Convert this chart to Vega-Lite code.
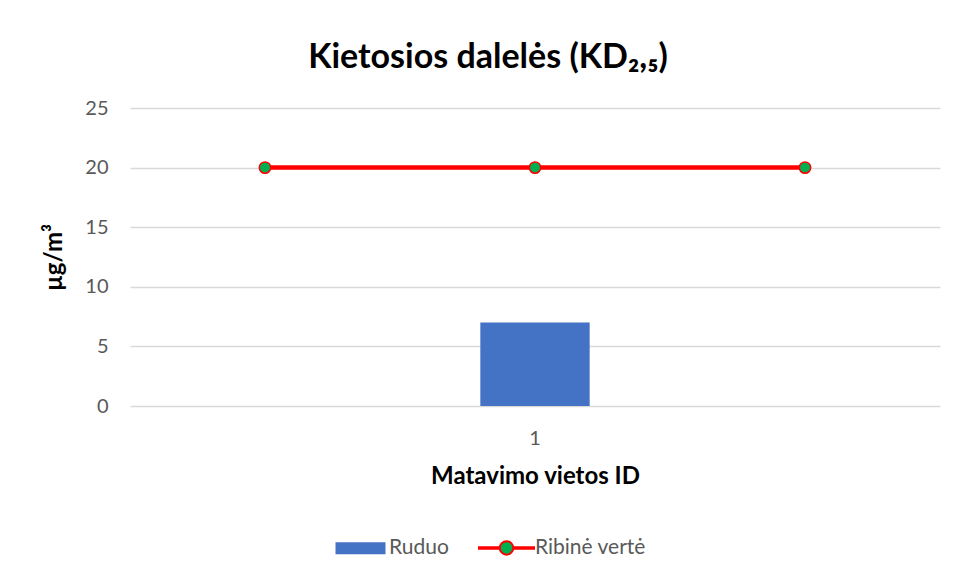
{
  "$schema": "https://vega.github.io/schema/vega-lite/v6.json",
  "autosize": "none",
  "width": 810,
  "height": 298,
  "padding": {"left": 130, "top": 108, "right": 20, "bottom": 174},
  "background": "white",
  "config": {
    "font": "Lato",
    "view": {"stroke": null},
    "legend": {
      "title": null,
      "orient": "none",
      "direction": "horizontal",
      "legendX": 203,
      "legendY": 429,
      "symbolSize": 2500,
      "symbolOffset": 17,
      "labelFontSize": 21,
      "labelColor": "#595959",
      "labelOffset": 18,
      "columnPadding": 25,
      "labelLimit": 300
    }
  },
  "title": {
    "text": "Kietosios dalelės (KD₂,₅)",
    "fontSize": 34,
    "fontWeight": "bold",
    "color": "#000000",
    "anchor": "middle",
    "frame": "group",
    "dx": -47,
    "offset": 23
  },
  "datasets": {
    "ruduo": [{"id": "1", "value": 7, "series": "Ruduo"}],
    "riba": [
      {"pt": "1", "value": 20, "series": "Ribinė vertė"},
      {"pt": "2", "value": 20, "series": "Ribinė vertė"},
      {"pt": "3", "value": 20, "series": "Ribinė vertė"}
    ]
  },
  "layer": [
    {
      "data": {"name": "ruduo"},
      "mark": {"type": "bar", "width": {"band": 0.135}},
      "encoding": {
        "x": {
          "field": "id", "type": "nominal",
          "scale": {"paddingInner": 0, "paddingOuter": 0},
          "axis": {
            "title": "Matavimo vietos ID",
            "titleFontSize": 24, "titleFontWeight": "bold", "titleColor": "#000000",
            "titlePadding": 16,
            "labelFontSize": 20, "labelColor": "#595959", "labelAngle": 0,
            "labelPadding": 22,
            "ticks": false, "domain": false
          }
        },
        "y": {
          "field": "value", "type": "quantitative",
          "scale": {"domain": [0, 25], "nice": false},
          "axis": {
            "title": "µg/m³",
            "values": [0, 5, 10, 15, 20, 25],
            "titleFontSize": 24, "titleFontWeight": "bold", "titleColor": "#000000",
            "titlePadding": 18,
            "labelFontSize": 20, "labelColor": "#595959", "labelPadding": 22,
            "ticks": false, "domain": false,
            "gridColor": "#d9d9d9", "gridWidth": 1.3
          }
        },
        "color": {
          "field": "series", "type": "nominal",
          "scale": {"domain": ["Ruduo", "Ribinė vertė"], "range": ["#4472C4", "#00B050"]},
          "legend": {
            "encode": {
              "symbols": {
                "update": {
                  "shape": {"signal": "datum.value === 'Ruduo' ? 'M-1,-0.24H1V0.24H-1Z' : 'M-1.1,-0.03H-0.27V0.03H-1.1Z M0.27,-0.03H1.1V0.03H0.27Z M0.27,0A0.27,0.27 0 1,1 -0.27,0A0.27,0.27 0 1,1 0.27,0Z'"},
                  "stroke": {"signal": "datum.value === 'Ruduo' ? '#4472C4' : '#FF0000'"},
                  "strokeWidth": {"signal": "datum.value === 'Ruduo' ? 0 : 2"},
                  "opacity": {"value": 1},
                  "fillOpacity": {"value": 1},
                  "strokeOpacity": {"value": 1}
                }
              }
            }
          }
        }
      }
    },
    {
      "data": {"name": "riba"},
      "layer": [
        {
          "mark": {"type": "line", "strokeWidth": 4.5, "color": "#FF0000"},
          "encoding": {
            "x": {"field": "pt", "type": "ordinal", "scale": {"type": "point", "padding": 0.5}, "axis": null},
            "y": {"field": "value", "type": "quantitative"}
          }
        },
        {
          "mark": {"type": "point", "filled": true, "fill": "#00B050", "stroke": "#FF0000", "strokeWidth": 1.5, "size": 130, "opacity": 1},
          "encoding": {
            "x": {"field": "pt", "type": "ordinal", "scale": {"type": "point", "padding": 0.5}, "axis": null},
            "y": {"field": "value", "type": "quantitative"}
          }
        }
      ]
    }
  ],
  "resolve": {"scale": {"x": "independent"}}
}
